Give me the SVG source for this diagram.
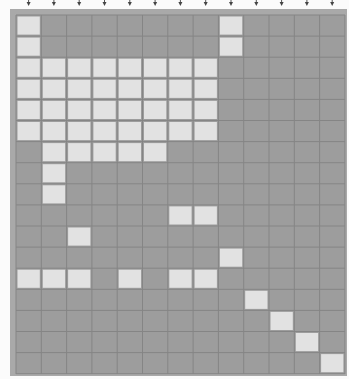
<svg xmlns="http://www.w3.org/2000/svg" width="349" height="379" viewBox="0 0 349 379">
<style>
.bg{fill:#fbfbfb}
.frame{fill:#a9a9a9}
.dark{fill:#9d9d9d}
.lt{fill:#e2e2e2}
.gl{stroke:#858585;stroke-width:1;fill:none}
.ar{stroke:#555;stroke-width:1}
.ah{fill:#444}
</style>
<defs>
<g id="arrow"><line class="ar" x1="0" y1="0" x2="0" y2="3"/><polygon class="ah" points="-2,2 2,2 0,6"/></g>
</defs>
<rect class="bg" x="0" y="0" width="349" height="379"/>
<g id="arrows">
<use href="#arrow" x="28.6" y="0"/><use href="#arrow" x="53.9" y="0"/><use href="#arrow" x="79.2" y="0"/><use href="#arrow" x="104.5" y="0"/><use href="#arrow" x="129.8" y="0"/><use href="#arrow" x="155.1" y="0"/><use href="#arrow" x="180.4" y="0"/><use href="#arrow" x="205.7" y="0"/><use href="#arrow" x="231" y="0"/><use href="#arrow" x="256.3" y="0"/><use href="#arrow" x="281.6" y="0"/><use href="#arrow" x="306.9" y="0"/><use href="#arrow" x="332.2" y="0"/>
</g>
<rect class="frame" x="10" y="9" width="337" height="367"/>
<rect class="dark" x="16" y="15" width="329" height="359"/>
<g id="cells" transform="translate(16,15)">
<!-- cell size 25.3 x 21.1, inset 1.5 -->
<!-- row1 -->
<rect class="lt" x="1.5" y="1.5" width="22.3" height="18.1"/>
<rect class="lt" x="203.9" y="1.5" width="22.3" height="18.1"/>
<!-- row2 -->
<rect class="lt" x="1.5" y="22.6" width="22.3" height="18.1"/>
<rect class="lt" x="203.9" y="22.6" width="22.3" height="18.1"/>
<!-- rows 3-6 cols1-8 -->
<rect class="lt" x="1.5" y="43.7" width="22.3" height="18.1"/><rect class="lt" x="26.8" y="43.7" width="22.3" height="18.1"/><rect class="lt" x="52.1" y="43.7" width="22.3" height="18.1"/><rect class="lt" x="77.4" y="43.7" width="22.3" height="18.1"/><rect class="lt" x="102.7" y="43.7" width="22.3" height="18.1"/><rect class="lt" x="128" y="43.7" width="22.3" height="18.1"/><rect class="lt" x="153.3" y="43.7" width="22.3" height="18.1"/><rect class="lt" x="178.6" y="43.7" width="22.3" height="18.1"/>
<rect class="lt" x="1.5" y="64.8" width="22.3" height="18.1"/><rect class="lt" x="26.8" y="64.8" width="22.3" height="18.1"/><rect class="lt" x="52.1" y="64.8" width="22.3" height="18.1"/><rect class="lt" x="77.4" y="64.8" width="22.3" height="18.1"/><rect class="lt" x="102.7" y="64.8" width="22.3" height="18.1"/><rect class="lt" x="128" y="64.8" width="22.3" height="18.1"/><rect class="lt" x="153.3" y="64.8" width="22.3" height="18.1"/><rect class="lt" x="178.6" y="64.8" width="22.3" height="18.1"/>
<rect class="lt" x="1.5" y="85.9" width="22.3" height="18.1"/><rect class="lt" x="26.8" y="85.9" width="22.3" height="18.1"/><rect class="lt" x="52.1" y="85.9" width="22.3" height="18.1"/><rect class="lt" x="77.4" y="85.9" width="22.3" height="18.1"/><rect class="lt" x="102.7" y="85.9" width="22.3" height="18.1"/><rect class="lt" x="128" y="85.9" width="22.3" height="18.1"/><rect class="lt" x="153.3" y="85.9" width="22.3" height="18.1"/><rect class="lt" x="178.6" y="85.9" width="22.3" height="18.1"/>
<rect class="lt" x="1.5" y="107" width="22.3" height="18.1"/><rect class="lt" x="26.8" y="107" width="22.3" height="18.1"/><rect class="lt" x="52.1" y="107" width="22.3" height="18.1"/><rect class="lt" x="77.4" y="107" width="22.3" height="18.1"/><rect class="lt" x="102.7" y="107" width="22.3" height="18.1"/><rect class="lt" x="128" y="107" width="22.3" height="18.1"/><rect class="lt" x="153.3" y="107" width="22.3" height="18.1"/><rect class="lt" x="178.6" y="107" width="22.3" height="18.1"/>
<!-- row7 cols2-6 -->
<rect class="lt" x="26.8" y="128.1" width="22.3" height="18.1"/><rect class="lt" x="52.1" y="128.1" width="22.3" height="18.1"/><rect class="lt" x="77.4" y="128.1" width="22.3" height="18.1"/><rect class="lt" x="102.7" y="128.1" width="22.3" height="18.1"/><rect class="lt" x="128" y="128.1" width="22.3" height="18.1"/>
<!-- row8, row9 col2 -->
<rect class="lt" x="26.8" y="149.2" width="22.3" height="18.1"/>
<rect class="lt" x="26.8" y="170.3" width="22.3" height="18.1"/>
<!-- row10 cols7,8 -->
<rect class="lt" x="153.3" y="191.4" width="22.3" height="18.1"/><rect class="lt" x="178.6" y="191.4" width="22.3" height="18.1"/>
<!-- row11 col3 -->
<rect class="lt" x="52.1" y="212.5" width="22.3" height="18.1"/>
<!-- row12 col9 -->
<rect class="lt" x="203.9" y="233.6" width="22.3" height="18.1"/>
<!-- row13 cols1,2,3,5,7,8 -->
<rect class="lt" x="1.5" y="254.7" width="22.3" height="18.1"/><rect class="lt" x="26.8" y="254.7" width="22.3" height="18.1"/><rect class="lt" x="52.1" y="254.7" width="22.3" height="18.1"/><rect class="lt" x="102.7" y="254.7" width="22.3" height="18.1"/><rect class="lt" x="153.3" y="254.7" width="22.3" height="18.1"/><rect class="lt" x="178.6" y="254.7" width="22.3" height="18.1"/>
<!-- row14 col10 -->
<rect class="lt" x="229.2" y="275.8" width="22.3" height="18.1"/>
<!-- row15 col11 -->
<rect class="lt" x="254.5" y="296.9" width="22.3" height="18.1"/>
<!-- row16 col12 -->
<rect class="lt" x="279.8" y="318" width="22.3" height="18.1"/>
<!-- row17 col13 -->
<rect class="lt" x="305.1" y="339.1" width="22.3" height="18.1"/>
</g>
<g id="gridlines" class="gl">
<path d="M16,15V374M41.3,15V374M66.6,15V374M91.9,15V374M117.2,15V374M142.5,15V374M167.8,15V374M193.1,15V374M218.4,15V374M243.7,15V374M269,15V374M294.3,15V374M319.6,15V374M344.9,15V374"/>
<path d="M16,15H345M16,36.1H345M16,57.2H345M16,78.3H345M16,99.4H345M16,120.5H345M16,141.6H345M16,162.7H345M16,183.8H345M16,204.9H345M16,226H345M16,247.1H345M16,268.2H345M16,289.3H345M16,310.4H345M16,331.5H345M16,352.6H345M16,373.7H345"/>
</g>
</svg>
